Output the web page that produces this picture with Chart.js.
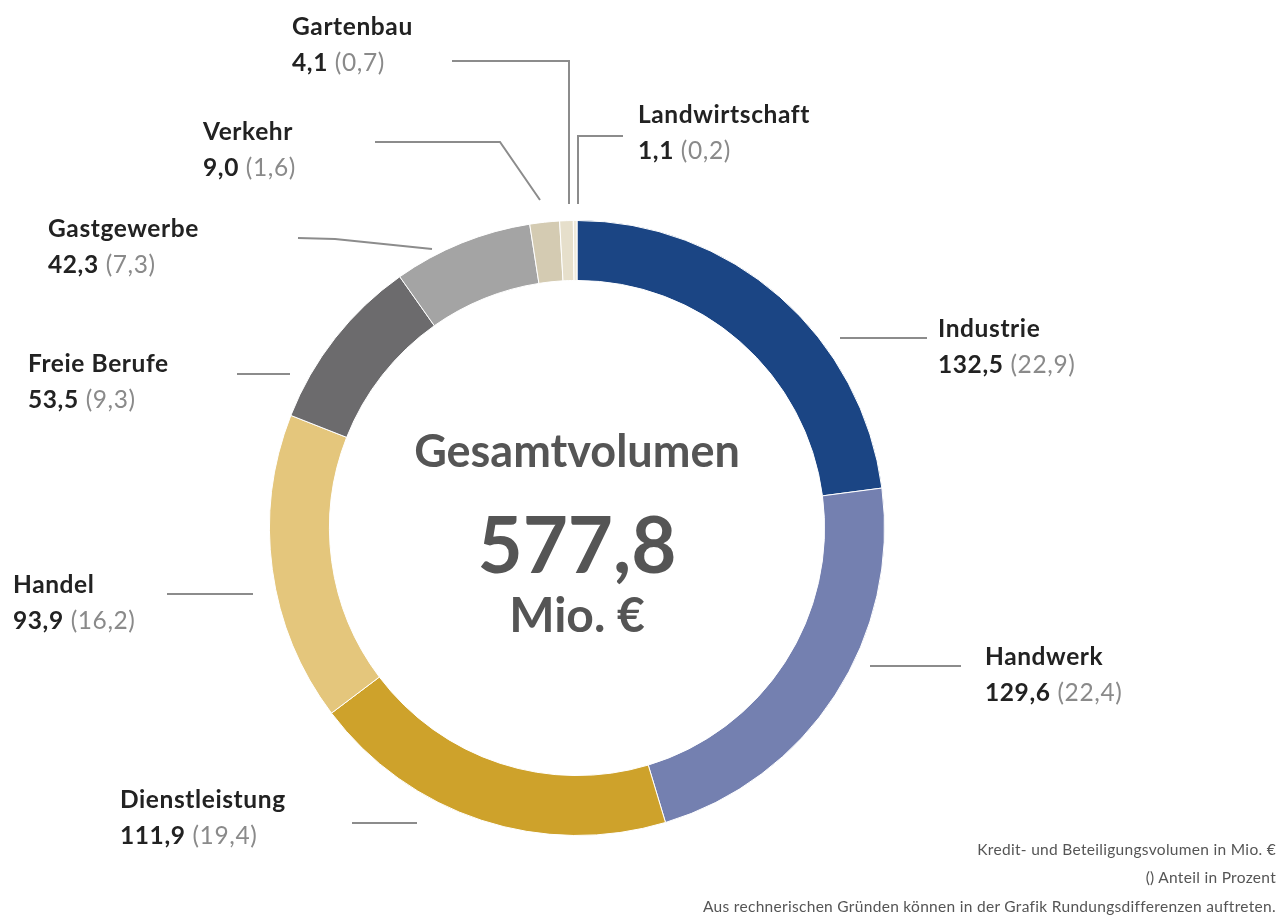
<!DOCTYPE html>
<html lang="de">
<head>
<meta charset="utf-8">
<script src="https://cdn.jsdelivr.net/npm/chart.js@4.4.1/dist/chart.umd.min.js"></script>
<style>
  html, body { margin: 0; padding: 0; background: #fff; }
  #wrap { position: relative; width: 1288px; height: 924px; overflow: hidden; font-family: Lato, "Open Sans", sans-serif; }
  canvas { position: absolute; left: 0; top: 0; }
  .lbl { position: absolute; font-size: 24.5px; line-height: 36px; color: #222; white-space: nowrap; letter-spacing: 0.6px; }
  .lbl .n { font-weight: 700; }
  .lbl .v { font-weight: 700; }
  .lbl .p { font-weight: 400; color: #8a8a8a; }
  .center { position: absolute; left: 377px; width: 400px; text-align: center; color: #555; font-weight: 700; white-space: nowrap; }
  .note { position: absolute; right: 12px; font-size: 15.5px; color: #555; white-space: nowrap; text-align: right; letter-spacing: 0.3px; }
</style>
</head>
<body>
<div id="wrap">
  <canvas id="c" width="1288" height="924"></canvas>
</div>
<script>
const categories = ["Industrie", "Handwerk", "Dienstleistung", "Handel", "Freie Berufe", "Gastgewerbe", "Verkehr", "Gartenbau", "Landwirtschaft"];
const volumes = [132.5, 129.6, 111.9, 93.9, 53.5, 42.3, 9.0, 4.1, 1.1];
const shares = [22.9, 22.4, 19.4, 16.2, 9.3, 7.3, 1.6, 0.7, 0.2];
const colors = ["#1b4584", "#7480b0", "#cea22b", "#e4c67c", "#6c6b6d", "#a4a4a4", "#d4cbb2", "#e6dfcb", "#efeadb"];
const totalText = "577,8";

// label layout: [left, baseline of first line]
const labelPos = [[938, 337], [985, 665], [120, 808], [13, 593], [28, 372], [48, 237], [203, 140], [292, 35], [638, 123]];
// leader lines as polylines
const leaders = [
  [[840, 338], [927, 338]],
  [[870, 666], [961, 666]],
  [[352, 823], [417, 823]],
  [[167, 594], [253, 594]],
  [[237, 374], [290, 374]],
  [[298, 238], [335, 239], [432, 249]],
  [[375, 142], [500, 142], [540, 200]],
  [[452, 61], [569, 61], [569, 204]],
  [[623, 136], [578, 136], [578, 204]]
];

const fmt = v => v.toFixed(1).replace(".", ",");
const wrap = document.getElementById("wrap");
categories.forEach((name, i) => {
  const d = document.createElement("div");
  d.className = "lbl";
  d.style.left = labelPos[i][0] + "px";
  d.style.top = (labelPos[i][1] - 27) + "px";
  d.innerHTML = '<div class="n">' + name + '</div><div><span class="v">' + fmt(volumes[i]) + '</span> <span class="p">(' + fmt(shares[i]) + ')</span></div>';
  wrap.appendChild(d);
});

function addCenter(text, size, baseline) {
  const d = document.createElement("div");
  d.className = "center";
  d.style.fontSize = size + "px";
  d.style.lineHeight = size + "px";
  d.style.top = (baseline - size * 0.89) + "px";
  d.textContent = text;
  wrap.appendChild(d);
}
addCenter("Gesamtvolumen", 45, 468);
addCenter(totalText, 78, 573);
addCenter("Mio. €", 48, 633);

function addNote(text, baseline) {
  const d = document.createElement("div");
  d.className = "note";
  d.style.top = (baseline - 15) + "px";
  d.textContent = text;
  wrap.appendChild(d);
}
addNote("Kredit- und Beteiligungsvolumen in Mio. €", 855);
addNote("() Anteil in Prozent", 883);
addNote("Aus rechnerischen Gründen können in der Grafik Rundungsdifferenzen auftreten.", 912);

const leaderPlugin = {
  id: "leaders",
  afterDraw(chart) {
    const ctx = chart.ctx;
    ctx.save();
    ctx.strokeStyle = "#8c8c8c";
    ctx.lineWidth = 2;
    leaders.forEach(pts => {
      ctx.beginPath();
      pts.forEach((p, k) => k ? ctx.lineTo(p[0], p[1]) : ctx.moveTo(p[0], p[1]));
      ctx.stroke();
    });
    ctx.restore();
  }
};

new Chart(document.getElementById("c"), {
  type: "doughnut",
  data: {
    labels: categories,
    datasets: [{
      data: volumes,
      backgroundColor: colors,
      borderColor: "#ffffff",
      borderWidth: 1
    }]
  },
  options: {
    responsive: false,
    animation: false,
    devicePixelRatio: 1,
    cutout: "80.5%",
    rotation: 0,
    layout: { padding: { top: 220, bottom: 88, left: 200, right: 334 } },
    plugins: { legend: { display: false }, tooltip: { enabled: false } }
  },
  plugins: [leaderPlugin]
});
</script>
</body>
</html>
